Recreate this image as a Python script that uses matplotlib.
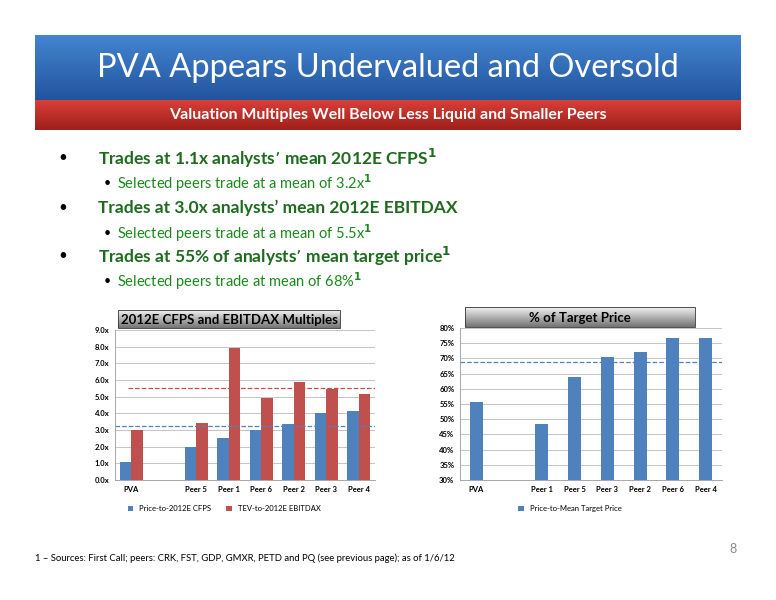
import numpy as np
import matplotlib
matplotlib.use("Agg")
import matplotlib.pyplot as plt
from matplotlib.patches import Rectangle

plt.rcParams['font.family'] = ['Lato', 'DejaVu Sans']

# == 데이터 =====================================================================
left_cats = ['PVA', '', 'Peer 5', 'Peer 1', 'Peer 6', 'Peer 2', 'Peer 3', 'Peer 4']
cfps      = [1.1, np.nan, 2.0, 2.55, 3.0, 3.35, 4.0, 4.15]
ebitdax   = [3.0, np.nan, 3.45, 7.9, 4.95, 5.9, 5.45, 5.15]
cfps_mean, ebitdax_mean = 3.25, 5.5

right_cats = ['PVA', '', 'Peer 1', 'Peer 5', 'Peer 3', 'Peer 2', 'Peer 6', 'Peer 4']
target_pct = [55.5, np.nan, 48.3, 63.8, 70.6, 72.2, 76.7, 76.7]
target_mean = 68.8

BLUE, RED = '#4f81bd', '#c0504d'
GREEN = '#1e6b1e'
W, H = 776, 600

fig = plt.figure(figsize=(W / 100, H / 100), dpi=100)
bg = fig.add_axes([0, 0, 1, 1])
bg.set_xlim(0, W); bg.set_ylim(H, 0); bg.axis('off')

def grad(ax, x0, x1, y0, y1, c_top, c_bot):
    g = np.linspace(0, 1, 64)[:, None, None]
    img = np.array(c_top)[None, None, :] * (1 - g) + np.array(c_bot)[None, None, :] * g
    ax.imshow(img, extent=[x0, x1, y1, y0], aspect='auto', zorder=1)

# 헤더 밴드
grad(bg, 35, 741, 35, 100, (0.27, 0.52, 0.82), (0.13, 0.33, 0.62))
grad(bg, 35, 741, 100, 130, (0.85, 0.25, 0.22), (0.62, 0.12, 0.10))
bg.set_xlim(0, W); bg.set_ylim(H, 0)
bg.text(388, 68, 'PVA Appears Undervalued and Oversold', color='white', fontsize=23.5,
        ha='center', va='center', zorder=3)
bg.text(388, 115, 'Valuation Multiples Well Below Less Liquid and Smaller Peers', color='white',
        fontsize=11.5, fontweight='bold', ha='center', va='center', zorder=3)

# 불릿
bullets = [
    (158, 0, r"Trades at 1.1x analysts’ mean 2012E CFPS$^\mathbf{1}$"),
    (183, 1, r"Selected peers trade at a mean of 3.2x$^\mathbf{1}$"),
    (208, 0, r"Trades at 3.0x analysts’ mean 2012E EBITDAX"),
    (233, 1, r"Selected peers trade at a mean of 5.5x$^\mathbf{1}$"),
    (256, 0, r"Trades at 55% of analysts’ mean target price$^\mathbf{1}$"),
    (281, 1, r"Selected peers trade at mean of 68%$^\mathbf{1}$"),
]
for y, lvl, s in bullets:
    if lvl == 0:
        bg.text(58, y, '•', fontsize=11, color='black', va='center')
        bg.text(98, y, s, fontsize=12.5, fontweight='bold', color=GREEN, va='center')
    else:
        bg.text(104, y, '•', fontsize=9, color='black', va='center')
        bg.text(117, y, s, fontsize=10.5, color='#1a8a1a', va='center')

bg.text(35, 558, '1 – Sources: First Call; peers: CRK, FST, GDP, GMXR, PETD and PQ (see previous page); as of 1/6/12',
        fontsize=6.8, va='center')
bg.text(733, 549, '8', fontsize=9, color='#888888', va='center', ha='center')

# 차트 제목 박스
for (x0, x1, y0, y1, t) in [(118, 340, 310, 328, '2012E CFPS and EBITDAX Multiples'),
                             (465, 695, 307, 327, '% of Target Price')]:
    grad(bg, x0, x1, y0, y1, (0.95, 0.95, 0.95), (0.45, 0.45, 0.45))
    bg.add_patch(Rectangle((x0, y0), x1 - x0, y1 - y0, fill=False, ec='#333333', lw=0.6, zorder=2))
    bg.text((x0 + x1) / 2, (y0 + y1) / 2 + 1, t, fontsize=9.5, fontweight='bold', ha='center',
            va='center', zorder=3)
bg.set_xlim(0, W); bg.set_ylim(H, 0)

def style(ax):
    for s in ['top', 'right']:
        ax.spines[s].set_visible(False)
    for s in ['left', 'bottom']:
        ax.spines[s].set_color('#999999'); ax.spines[s].set_linewidth(0.6)
    ax.grid(True, axis='y', color='#bbbbbb', lw=0.6); ax.set_axisbelow(True)
    ax.tick_params(length=0, labelsize=5.5, pad=4)
    for t in ax.get_xticklabels() + ax.get_yticklabels():
        t.set_fontweight('bold')

# (a) CFPS / EBITDAX
ax = fig.add_axes([115 / W, 1 - 480 / H, 260 / W, 150 / H])
x = np.arange(len(left_cats)); w = 0.36
ax.bar(x - w / 2, cfps, w, color=BLUE, label='Price-to-2012E CFPS')
ax.bar(x + w / 2, ebitdax, w, color=RED, label='TEV-to-2012E EBITDAX')
ax.axhline(cfps_mean, xmin=0, xmax=1, color=BLUE, ls='--', lw=0.9)
ax.axhline(ebitdax_mean, xmin=0.05, xmax=1, color=RED, ls='--', lw=0.9)
ax.set_xlim(-0.5, len(left_cats) - 0.5); ax.set_ylim(0, 9)
ax.set_yticks(np.arange(0, 9.1, 1)); ax.set_yticklabels([f'{v:.1f}x' for v in np.arange(0, 9.1, 1)])
ax.set_xticks(x); ax.set_xticklabels(left_cats)
style(ax)
ax.legend(loc='upper center', bbox_to_anchor=(0.42, -0.12), ncol=2, frameon=False,
          fontsize=5.5, handlelength=0.7, handleheight=0.7, columnspacing=2)

# (b) % of target price
ax = fig.add_axes([460 / W, 1 - 480 / H, 262 / W, 152 / H])
ax.bar(x, target_pct, 0.4, color=BLUE, label='Price-to-Mean Target Price')
ax.axhline(target_mean, color=BLUE, ls='--', lw=0.9)
ax.set_xlim(-0.5, len(right_cats) - 0.5); ax.set_ylim(30, 80)
ax.set_yticks(np.arange(30, 81, 5)); ax.set_yticklabels([f'{v}%' for v in range(30, 81, 5)])
ax.set_xticks(x); ax.set_xticklabels(right_cats)
style(ax)
ax.legend(loc='upper center', bbox_to_anchor=(0.42, -0.12), ncol=1, frameon=False,
          fontsize=5.5, handlelength=0.7, handleheight=0.7)

fig.savefig('out.png', dpi=100)
